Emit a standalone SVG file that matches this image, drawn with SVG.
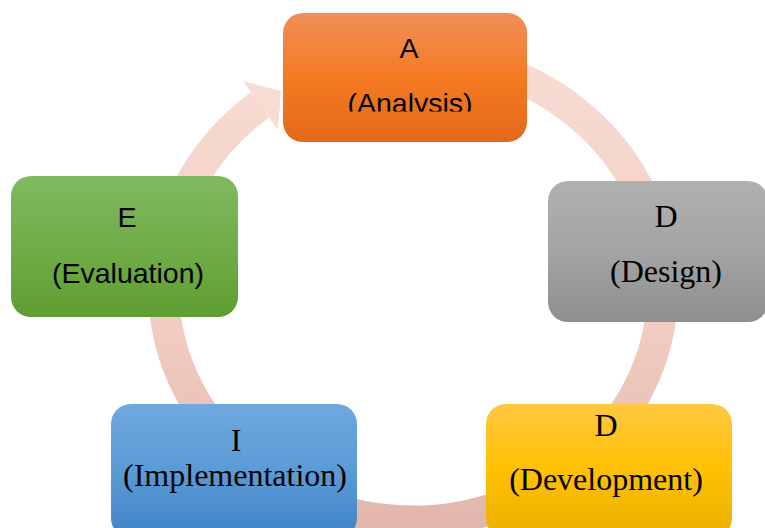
<svg xmlns="http://www.w3.org/2000/svg" width="765" height="528" viewBox="0 0 765 528">
  <defs>
    <linearGradient id="gRing" gradientUnits="userSpaceOnUse" x1="0" y1="40" x2="0" y2="540">
      <stop offset="0" stop-color="#f8ddd5"/>
      <stop offset="0.6" stop-color="#f1cbc0"/>
      <stop offset="1" stop-color="#e0b5a9"/>
    </linearGradient>
    <linearGradient id="gOrange" x1="0" y1="0" x2="0" y2="1">
      <stop offset="0" stop-color="#f08f58"/>
      <stop offset="0.5" stop-color="#f57a22"/>
      <stop offset="1" stop-color="#e2691a"/>
    </linearGradient>
    <linearGradient id="gGrey" x1="0" y1="0" x2="0" y2="1">
      <stop offset="0" stop-color="#b0b0b0"/>
      <stop offset="0.5" stop-color="#a4a4a4"/>
      <stop offset="1" stop-color="#8e8e8e"/>
    </linearGradient>
    <linearGradient id="gYellow" x1="0" y1="0" x2="0" y2="1">
      <stop offset="0" stop-color="#ffc841"/>
      <stop offset="0.5" stop-color="#ffc000"/>
      <stop offset="1" stop-color="#e8b000"/>
    </linearGradient>
    <linearGradient id="gBlue" x1="0" y1="0" x2="0" y2="1">
      <stop offset="0" stop-color="#6fa8de"/>
      <stop offset="0.5" stop-color="#5b9bd5"/>
      <stop offset="1" stop-color="#3f84c8"/>
    </linearGradient>
    <linearGradient id="gGreen" x1="0" y1="0" x2="0" y2="1">
      <stop offset="0" stop-color="#80b962"/>
      <stop offset="0.5" stop-color="#70ad47"/>
      <stop offset="1" stop-color="#5f9e33"/>
    </linearGradient>
    <clipPath id="clipA">
      <rect x="283" y="13" width="244" height="98.5"/>
    </clipPath>
    <style>
      .sans { font-family: "Liberation Sans", Arial, sans-serif; font-size: 28.5px; fill: #000; text-anchor: middle; }
      .serif { font-family: "Liberation Serif", "Times New Roman", serif; font-size: 32px; fill: #000; text-anchor: middle; }
    </style>
  </defs>

  <g id="connectors">
    <path d="M 483.6 65.4 A 249.5 232.5 0 1 1 260.1 104.9" fill="none" stroke="url(#gRing)" stroke-width="31"/>
    <polygon points="243,81 281,91 278,130" fill="#f8dbd3"/>
  </g>

  <g id="node-analysis">
    <rect x="283" y="13" width="244" height="129" rx="20" fill="url(#gOrange)"/>
    <text class="sans" x="409" y="58">A</text>
    <text class="sans" x="410" y="113" clip-path="url(#clipA)">(Analysis)</text>
  </g>

  <g id="node-design">
    <rect x="548" y="181" width="220" height="141" rx="20" fill="url(#gGrey)"/>
    <text class="serif" x="666" y="227">D</text>
    <text class="serif" x="666" y="282">(Design)</text>
  </g>

  <g id="node-development">
    <rect x="486" y="404" width="246" height="134" rx="20" fill="url(#gYellow)"/>
    <text class="serif" x="606" y="436">D</text>
    <text class="serif" x="606" y="490">(Development)</text>
  </g>

  <g id="node-implementation">
    <rect x="111" y="404" width="246" height="134" rx="20" fill="url(#gBlue)"/>
    <text class="serif" x="236" y="451">I</text>
    <text class="serif" x="235" y="486">(Implementation)</text>
  </g>

  <g id="node-evaluation">
    <rect x="11" y="176" width="227" height="141" rx="20" fill="url(#gGreen)"/>
    <text class="sans" x="127" y="227">E</text>
    <text class="sans" x="128" y="283">(Evaluation)</text>
  </g>
</svg>
